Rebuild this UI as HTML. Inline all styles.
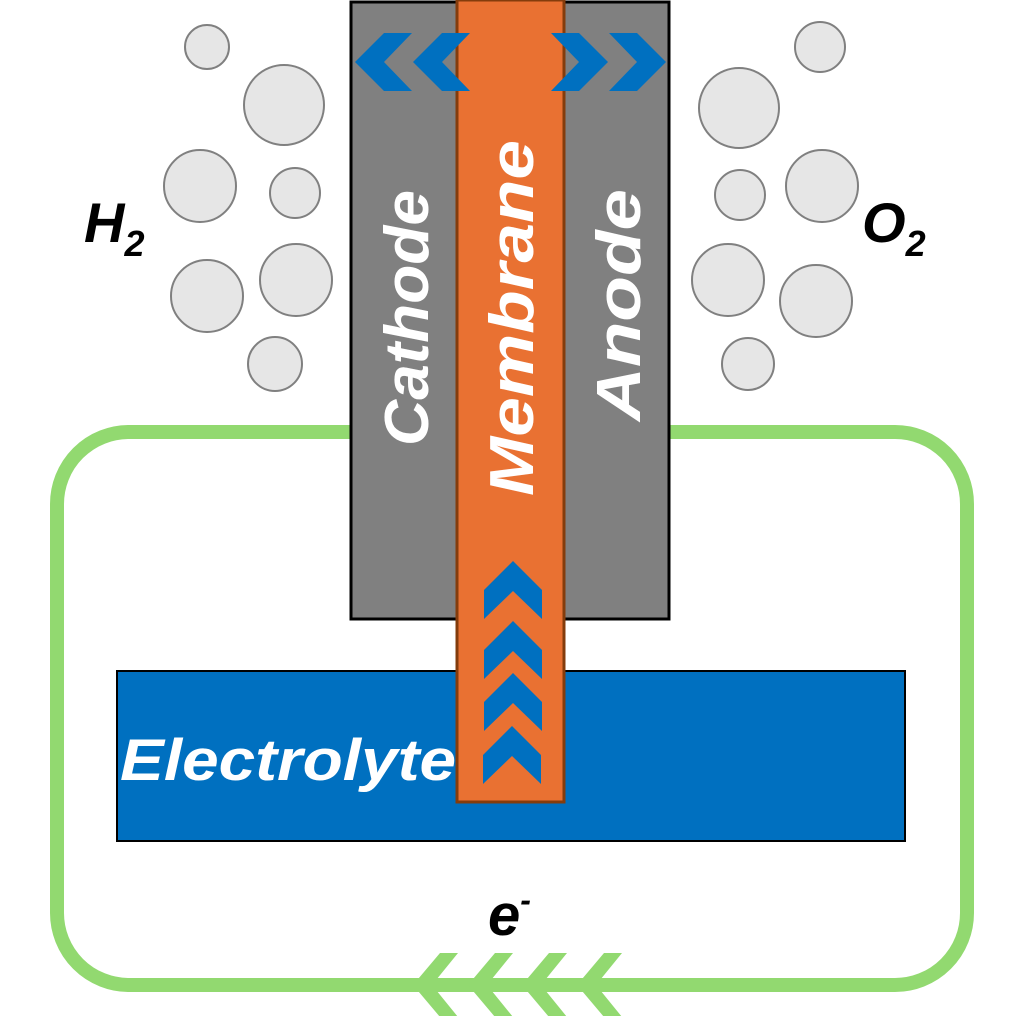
<!DOCTYPE html>
<html><head><style>body{margin:0;background:#fff}</style></head><body>
<svg width="1024" height="1016" xmlns="http://www.w3.org/2000/svg" font-family="Liberation Sans, sans-serif">
<rect x="57" y="432" width="910" height="553" rx="72" fill="none" stroke="#92d970" stroke-width="14"/>
<g fill="#92d970">
<polygon points="413,985 440,953 458,953 432,985 458,1017 440,1017"/>
<polygon points="468,985 495,953 513,953 487,985 513,1017 495,1017"/>
<polygon points="522,985 549,953 567,953 541,985 567,1017 549,1017"/>
<polygon points="577,985 604,953 622,953 596,985 622,1017 604,1017"/>
</g>
<rect x="117" y="671" width="788" height="170" fill="#0070c0" stroke="#000" stroke-width="2"/>
<rect x="351" y="2" width="318" height="617" fill="#808080" stroke="#000" stroke-width="3"/>
<rect x="457" y="0" width="107" height="802" fill="#e97132" stroke="#843c0c" stroke-width="3"/>
<g fill="#0070c0">
<polygon points="355,62 384,33 412,33 384,62 412,91 384,91"/>
<polygon points="413,62 442,33 470,33 442,62 470,91 442,91"/>
<polygon points="666,62 637,33 609,33 637,62 609,91 637,91"/>
<polygon points="608,62 579,33 551,33 579,62 551,91 579,91"/>
<polygon points="513,561 542,590 542,619 513,591 484,619 484,590"/>
<polygon points="513,621 542,650 542,679 513,651 484,679 484,650"/>
<polygon points="513,673 542,702 542,731 513,703 484,731 484,702"/>
<polygon points="512,726 541,755 541,784 512,756 483,784 483,755"/>
</g>
<g fill="#e6e6e6" stroke="#808080" stroke-width="2">
<circle cx="207" cy="47" r="22"/><circle cx="284" cy="105" r="40"/><circle cx="200" cy="186" r="36"/><circle cx="295" cy="193" r="25"/><circle cx="207" cy="296" r="36"/><circle cx="296" cy="280" r="36"/><circle cx="275" cy="364" r="27"/>
<circle cx="820" cy="47" r="25"/><circle cx="739" cy="108" r="40"/><circle cx="740" cy="195" r="25"/><circle cx="822" cy="186" r="36"/><circle cx="728" cy="280" r="36"/><circle cx="816" cy="301" r="36"/><circle cx="748" cy="364" r="26"/>
</g>
<g font-weight="bold" font-style="italic">
<text x="84" y="242" font-size="56" fill="#000">H<tspan font-size="36" dy="14">2</tspan></text>
<text x="862" y="242" font-size="56" fill="#000">O<tspan font-size="36" dy="14">2</tspan></text>
<text x="120" y="780" font-size="58" fill="#fff" textLength="336" lengthAdjust="spacingAndGlyphs">Electrolyte</text>
<text x="488" y="935" font-size="58" fill="#000">e<tspan font-size="32" dy="-24">-</tspan></text>
<text transform="translate(428,318) rotate(-90)" text-anchor="middle" font-size="62" fill="#fff" textLength="256" lengthAdjust="spacingAndGlyphs">Cathode</text>
<text transform="translate(533,318) rotate(-90)" text-anchor="middle" font-size="62" fill="#fff" textLength="356" lengthAdjust="spacingAndGlyphs">Membrane</text>
<text transform="translate(640,305) rotate(-90)" text-anchor="middle" font-size="62" fill="#fff" textLength="232" lengthAdjust="spacingAndGlyphs">Anode</text>
</g>
</svg>
</body></html>
